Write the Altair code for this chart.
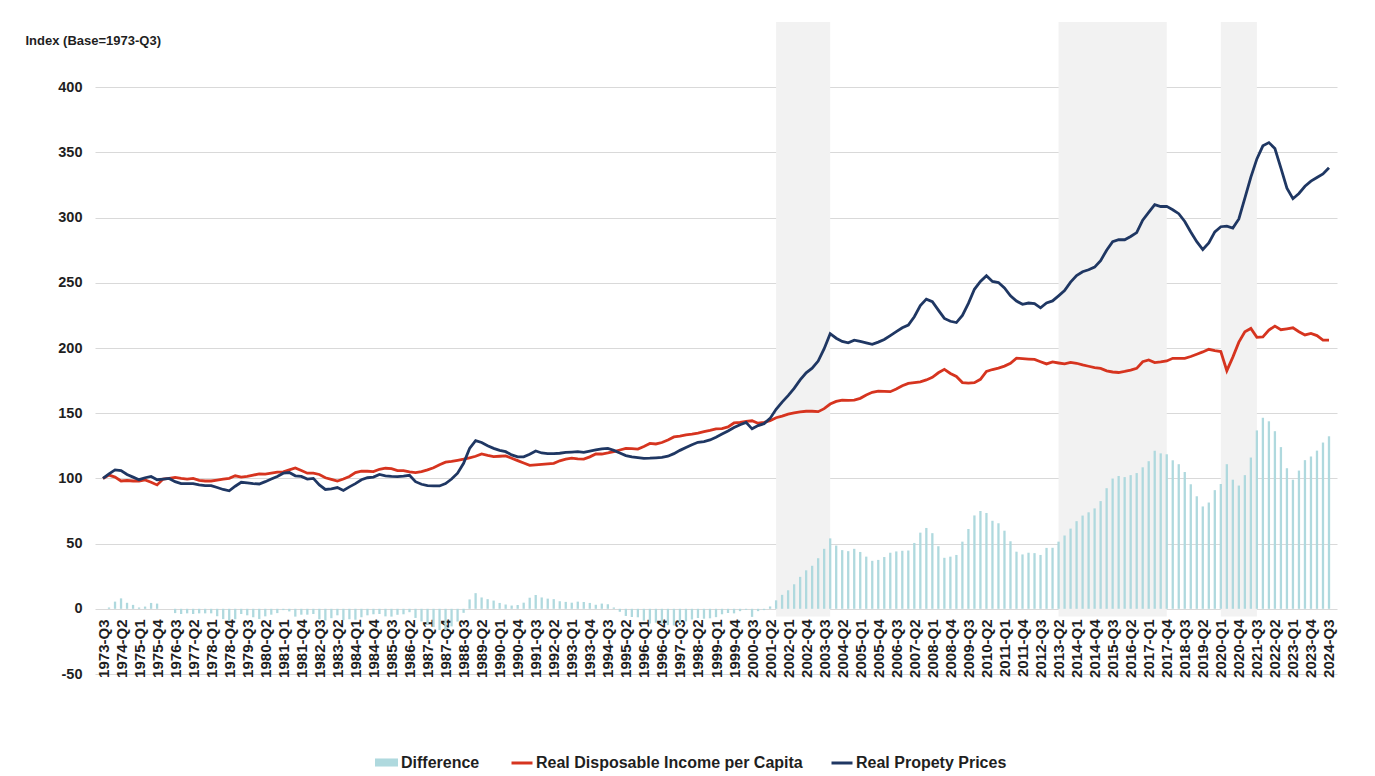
import json
import altair as alt
import pandas as pd

# ---------------- data ----------------
quarters = [f"{y}-Q{q}" for y in range(1973, 2025) for q in (1, 2, 3, 4)][2:207]

property_prices = [
    100, 103.5, 106.5, 106, 103, 101, 99, 100.5, 101.5, 99,
    99.5, 100, 97.5, 96, 96, 96, 95, 94.5, 94.5, 93,
    91.5, 90.5, 94, 97, 96.5, 96, 95.7, 97.5, 99.5, 101.5,
    104, 104.5, 102, 101.5, 99.5, 100, 95, 91.5, 92, 93,
    90.8, 93.5, 96, 99, 100.5, 101, 103, 102, 101.5, 101.4,
    101.8, 102.4, 97.5, 95.5, 94.5, 94.2, 94.2, 96, 99.5, 104,
    111.6, 123, 129, 127.5, 125, 123, 121.5, 120.5, 118, 116.5,
    116.5, 118.5, 121, 119.5, 119, 119, 119.3, 120, 120.2, 120.5,
    120, 121, 121.8, 122.7, 123, 121.5, 119.5, 117.5, 116.5, 116,
    115.4, 115.5, 115.8, 116.2, 117, 119, 121.5, 123.7, 125.8, 127.7,
    128.2, 129.5, 131.6, 134, 136.3, 139, 141.2, 143, 138, 140.5,
    142, 146, 153, 158.5, 163.5, 169, 175.5, 181, 184.5, 190,
    199.5, 211, 207.5, 205, 204, 206, 205, 204, 202.8, 204.5,
    206.5, 209.5, 212.5, 215.5, 217.6, 224, 232.5, 237.5, 235.5, 229,
    222.7, 220.5, 219.5, 225, 234.2, 245, 251, 255.5, 251, 250.2,
    246, 240, 236, 233.5, 234.5, 234, 230.8, 234.5, 236.1, 240,
    244, 250.5, 255.5, 258.5, 260, 262, 267, 275, 281.5, 283,
    283, 285.5, 288.5, 298, 304, 310, 308.5, 308.6, 306, 303,
    297, 289, 281.5, 275.5, 280.5, 289, 293, 293.5, 292, 299,
    315, 331, 345, 355, 357.5, 353, 338, 322.5, 314.5, 318.5,
    324, 328, 330.8, 333.5, 338.3,
]

disposable_income = [
    100, 102.5, 101, 98, 98.4, 98, 98, 98.8, 97, 95,
    99.5, 100, 100.8, 100, 99.5, 100, 98.5, 98, 98, 98.7,
    99.4, 100, 102, 101, 101.5, 102.5, 103.5, 103.3, 104, 104.8,
    105, 106.5, 108, 106, 104, 104, 103, 100.5, 99.2, 98,
    99.5, 101.5, 104.4, 105.5, 105.5, 105.2, 107, 107.8, 107.5, 106,
    106, 105, 104.5, 105.2, 106.5, 108.2, 110.5, 112.4, 113, 113.8,
    114.7, 115.8, 117, 118.8, 117.6, 116.7, 117, 117.2, 115.5, 113.6,
    111.8, 110, 110.4, 110.8, 111.2, 111.6, 113.5, 114.7, 115.5, 115,
    114.8, 116.5, 118.7, 118.7, 119.5, 120.5, 121.8, 123, 122.8, 122.5,
    124.5, 126.8, 126.4, 127.5, 129.5, 131.8, 132.5, 133.4, 134, 134.8,
    135.8, 136.8, 138, 138.2, 139.5, 142.5, 143, 143.8, 144.2, 142.3,
    143, 144.2, 146.5, 147.8, 149.3, 150.2, 151, 151.5, 151.5, 151.2,
    153.5, 157, 159, 160, 159.8, 160, 161.4, 164, 166, 167,
    166.8, 166.5, 168.5, 171, 172.9, 173.5, 174.1, 175.5, 177.5, 181,
    183.6, 180.5, 178.2, 173.5, 173, 173.4, 176, 182, 183.5, 184.6,
    186.1, 188.2, 192.2, 191.8, 191.5, 191.3, 189.5, 187.8, 189.3, 188.5,
    187.8, 189, 188.3, 187, 186, 185, 184.4, 182.5, 181.6, 181.2,
    182, 183, 184.4, 189.5, 190.8, 188.8, 189.3, 190.1, 192.1, 192.1,
    192.1, 193.5, 195.2, 197, 199, 198, 197.3, 182.6, 193, 204.5,
    212.5, 215, 208.2, 208.5, 213.7, 216.8, 214, 214.7, 215.5, 212.5,
    210, 211.2, 209.5, 206, 206,
]

shade_periods = [["2001-Q3", "2003-Q4"], ["2013-Q2", "2017-Q4"], ["2020-Q1", "2021-Q3"]]

y_ticks = [-50, 0, 50, 100, 150, 200, 250, 300, 350, 400]

NAME_DIFF = "Difference"
NAME_INC = "Real Disposable Income per Capita"
NAME_PROP = "Real Propety Prices"

# ---------------- styling ----------------
FONT = "Liberation Sans"
TEXT = "#1f1f1f"
TEAL = "#afd9de"
RED = "#d6341f"
NAVY = "#1f3763"
SHADE = "#f2f2f2"
GRID = "#d9d9d9"

# ---------------- tables ----------------
idx = list(range(len(quarters)))
difference = [round(p - r, 2) for p, r in zip(property_prices, disposable_income)]

bar_df = pd.DataFrame({"i": idx, "quarter": quarters, "value": difference, "bar_series": NAME_DIFF})
line_df = pd.concat([
    pd.DataFrame({"i": idx, "quarter": quarters, "value": disposable_income, "line_series": NAME_INC}),
    pd.DataFrame({"i": idx, "quarter": quarters, "value": property_prices, "line_series": NAME_PROP}),
], ignore_index=True)
shade_df = pd.DataFrame({
    "start": [quarters.index(a) for a, b in shade_periods],
    "end": [quarters.index(b) for a, b in shade_periods],
})

n = len(quarters)
xscale = alt.Scale(domain=[-0.5, n - 0.5], nice=False, zero=False)
yscale = alt.Scale(domain=[-50, 450], nice=False, zero=False)

xaxis = alt.Axis(
    values=list(range(0, n, 3)),
    labelExpr=json.dumps(quarters) + "[datum.value]",
    labelAngle=-90, labelAlign="right", labelBaseline="middle",
    labelFont=FONT, labelFontSize=15, labelFontWeight="bold", labelColor=TEXT,
    labelPadding=10, labelOverlap=False, labelBound=False, labelFlush=False,
    ticks=False, domain=False, grid=False, offset=-65, title=None,
)
yaxis = alt.Axis(
    values=y_ticks, labelExpr="'' + datum.value", title="Index (Base=1973-Q3)",
    titleAngle=0, titleX=-70, titleY=18, titleAlign="left", titleBaseline="middle",
    titleFont=FONT, titleFontSize=13, titleFontWeight="bold", titleColor=TEXT,
    labelFont=FONT, labelFontSize=14.5, labelFontWeight="bold", labelColor=TEXT,
    labelPadding=13, ticks=False, domain=False,
    grid=True, gridColor=GRID, gridWidth=1,
)

legend_common = dict(
    orient="none", legendY=729, title=None, padding=0, labelLimit=0,
    labelFont=FONT, labelFontSize=16, labelFontWeight="bold", labelColor=TEXT,
)

shade = alt.Chart(shade_df).mark_rect(color=SHADE).encode(
    x=alt.X("start:Q", scale=xscale, axis=xaxis),
    x2="end:Q",
    y=alt.Y(datum=450, scale=yscale, axis=yaxis),
    y2=alt.datum(-6),
)

bars = alt.Chart(bar_df).mark_bar(size=2.3, orient="vertical").encode(
    x=alt.X("i:Q", scale=xscale, axis=xaxis),
    y=alt.Y("value:Q", scale=yscale, axis=yaxis),
    y2=alt.datum(0),
    fill=alt.Fill(
        "bar_series:N",
        scale=alt.Scale(domain=[NAME_DIFF], range=[TEAL]),
        legend=alt.Legend(
            legendX=280,
            symbolType="M-1,-0.35H1V0.35H-1Z", symbolSize=529, symbolStrokeWidth=0,
            labelOffset=3, **legend_common,
        ),
    ),
)

lines = alt.Chart(line_df).mark_line(strokeWidth=2.8).encode(
    x=alt.X("i:Q", scale=xscale, axis=xaxis),
    y=alt.Y("value:Q", scale=yscale, axis=yaxis),
    stroke=alt.Stroke(
        "line_series:N",
        scale=alt.Scale(domain=[NAME_INC, NAME_PROP], range=[RED, NAVY]),
        legend=alt.Legend(
            legendX=415, direction="horizontal",
            symbolType="stroke", symbolSize=441, symbolStrokeWidth=3,
            columnPadding=22, labelOffset=2, **legend_common,
        ),
    ),
)

chart = alt.layer(shade, bars, lines).properties(
    width=1242, height=652,
    autosize=alt.AutoSizeParams(type="none"),
    padding={"left": 87, "top": 14, "right": 28, "bottom": 110},
).configure_view(strokeOpacity=0)

chart.save("out.html", embed_options={"renderer": "svg", "actions": False})
